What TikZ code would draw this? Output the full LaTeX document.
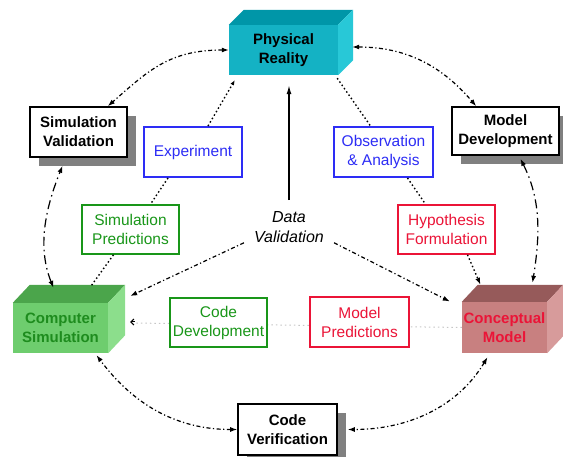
\documentclass[tikz,border=0pt]{standalone}
\usepackage{fontspec}
\setmainfont{Liberation Sans}
\usetikzlibrary{arrows.meta,shadows}
\definecolor{bluec}{RGB}{45,45,245}
\definecolor{greenc}{RGB}{25,150,25}
\definecolor{greent}{RGB}{30,140,30}
\definecolor{redc}{RGB}{235,20,55}
\definecolor{prfront}{RGB}{20,178,196}
\definecolor{prtop}{RGB}{0,150,168}
\definecolor{prright}{RGB}{40,200,215}
\definecolor{csfront}{RGB}{110,205,110}
\definecolor{cstop}{RGB}{75,165,75}
\definecolor{csright}{RGB}{140,222,140}
\definecolor{cmfront}{RGB}{200,128,128}
\definecolor{cmtop}{RGB}{150,90,90}
\definecolor{cmright}{RGB}{215,155,155}
\tikzset{mytip/.tip={Latex[length=7pt,width=5pt]}}
\begin{document}
\begin{tikzpicture}[x=1pt,y=-1pt,
  every node/.style={font=\fontsize{15.5}{19}\selectfont, align=center, inner sep=0pt},
  plainbox/.style={draw, line width=1.6pt, fill=white, minimum height=50pt},
  shadowbox/.style={plainbox, font=\fontsize{15}{19}\selectfont\bfseries,
     drop shadow={shadow xshift=9pt, shadow yshift=-9pt, fill=gray, opacity=1}},
  bluebox/.style={plainbox, draw=bluec, text=bluec, line width=2pt},
  greenbox/.style={plainbox, draw=greenc, text=greenc},
  redbox/.style={plainbox, draw=redc, text=redc},
  cube/.style={minimum height=50pt, font=\fontsize{15}{19}\selectfont\bfseries},
  arc/.style={line width=1.2pt, {mytip}-{mytip}},
  dashdot/.style={dash pattern=on 4pt off 2.5pt on 1.2pt off 2.5pt},
  longdash/.style={dash pattern=on 9pt off 4pt on 1.5pt off 4pt},
  dotline/.style={line width=1.4pt, dash pattern=on 1.5pt off 2.5pt},
]
\useasboundingbox (0,0) rectangle (563,457);

% 3D boxes
\node[cube, fill=prfront, minimum width=109pt] (pr) at (283.5,50) {Physical\\Reality};
\fill[prtop] (pr.north west) -- ++(15,-15) -- ([shift={(15pt,15pt)}]pr.north east) -- (pr.north east) -- cycle;
\fill[prright] (pr.north east) -- ([shift={(15pt,15pt)}]pr.north east) -- ([shift={(15pt,15pt)}]pr.south east) -- (pr.south east) -- cycle;

\node[cube, fill=csfront, text=greent, minimum width=95pt] (cs) at (60.5,328) {Computer\\Simulation};
\fill[cstop] (cs.north west) -- ++(17,-18) -- ([shift={(17pt,18pt)}]cs.north east) -- (cs.north east) -- cycle;
\fill[csright] (cs.north east) -- ([shift={(17pt,18pt)}]cs.north east) -- ([shift={(17pt,18pt)}]cs.south east) -- (cs.south east) -- cycle;

\node[cube, fill=cmfront, text=redc, minimum width=85pt, minimum height=51pt] (cm) at (504.5,327.5) {Conceptual\\Model};
\fill[cmtop] (cm.north west) -- ++(16,-17) -- ([shift={(16pt,17pt)}]cm.north east) -- (cm.north east) -- cycle;
\fill[cmright] (cm.north east) -- ([shift={(16pt,17pt)}]cm.north east) -- ([shift={(16pt,17pt)}]cm.south east) -- (cm.south east) -- cycle;

% faint line
\draw[gray!45, line width=1pt, dash pattern=on 1.5pt off 3pt] (cm.west) -- ([xshift=24pt,yshift=5pt]cs.east);
\draw[line width=1pt, {Straight Barb[length=3pt,width=6pt]}-] ([xshift=22pt,yshift=6pt]cs.east) -- ++(5,0);

% boxes
\node[shadowbox, minimum width=97pt] (sv) at (78.5,132) {Simulation\\Validation};
\node[shadowbox, minimum width=107pt, minimum height=48pt] (md) at (505.5,131) {Model\\Development};
\node[shadowbox, minimum width=99pt, minimum height=51pt] (cv) at (287.5,429.5) {Code\\Verification};
\node[bluebox, minimum width=98pt] (exp) at (193,152) {Experiment};
\node[bluebox, minimum width=99pt] (oa) at (383.5,152) {Observation\\\& Analysis};
\node[greenbox, minimum width=97pt, minimum height=49pt] (sp) at (130.5,229.5) {Simulation\\Predictions};
\node[redbox, minimum width=97pt, minimum height=49pt] (hf) at (446.5,229.5) {Hypothesis\\Formulation};
\node[greenbox, minimum width=97pt, minimum height=49pt] (cd) at (218.5,322.5) {Code\\Development};
\node[redbox, minimum width=99pt] (mp) at (359.5,322) {Model\\Predictions};
\node[font=\fontsize{16}{20}\selectfont\itshape] (dv) at (289,227) {Data\\Validation};

% outer cycle
\draw[arc, dashdot] (pr.west) .. controls +(-60,0) and +(40,-35) .. ([xshift=-20pt]sv.north east);
\draw[arc, dashdot] ([xshift=14pt,yshift=3pt]pr.east) .. controls +(60,0) and +(-30,-35) .. ([xshift=25pt]md.north west);
\draw[arc, longdash] ([xshift=15pt,yshift=-3pt]md.south) .. controls +(20,40) and +(8,-50) .. ([xshift=28pt,yshift=19pt]cm.north);
\draw[arc, dashdot] ([xshift=-17pt,yshift=-4pt]cm.south) .. controls +(-30,50) and +(60,0) .. ([xshift=10pt]cv.east);
\draw[arc, dashdot] (cv.west) .. controls +(-70,0) and +(30,40) .. ([xshift=36pt,yshift=-2pt]cs.south);
\draw[arc, longdash] ([xshift=-7pt,yshift=15pt]cs.north) .. controls +(-16,-40) and +(-18,45) .. ([xshift=-16pt,yshift=-8pt]sv.south);

% data validation
\draw[line width=1.3pt, -{Latex[length=9pt,width=5pt]}] ([yshift=11pt]dv.north) -- ([yshift=-10pt]dv.north |- pr.south);
\draw[line width=1.2pt, dashdot, -{mytip}] ([xshift=-10pt]dv.south west) -- ([xshift=22pt,yshift=32pt]cs.east);
\draw[line width=1.2pt, dashdot, -{mytip}] ([xshift=10pt]dv.south east) -- ([xshift=-12pt,yshift=26pt]cm.west);

% dotted chains
\draw[dotline, -{Latex[length=5pt,width=4pt]}] ([xshift=15pt]exp.north) -- ([shift={(6pt,-5pt)}]pr.south west);
\draw[dotline] ([xshift=-25pt]exp.south) -- ([xshift=20pt]sp.north);
\draw[dotline] ([xshift=-17pt]sp.south) -- ([xshift=30pt,yshift=16pt]cs.north);
\draw[dotline] ([shift={(-1pt,-3pt)}]pr.south east) -- ([xshift=-13pt]oa.north);
\draw[dotline] ([xshift=24pt]oa.south) -- ([xshift=-21pt]hf.north);
\draw[dotline, -{mytip}] ([xshift=21pt]hf.south) -- ([xshift=-24pt,yshift=17pt]cm.north);
\end{tikzpicture}
\end{document}
